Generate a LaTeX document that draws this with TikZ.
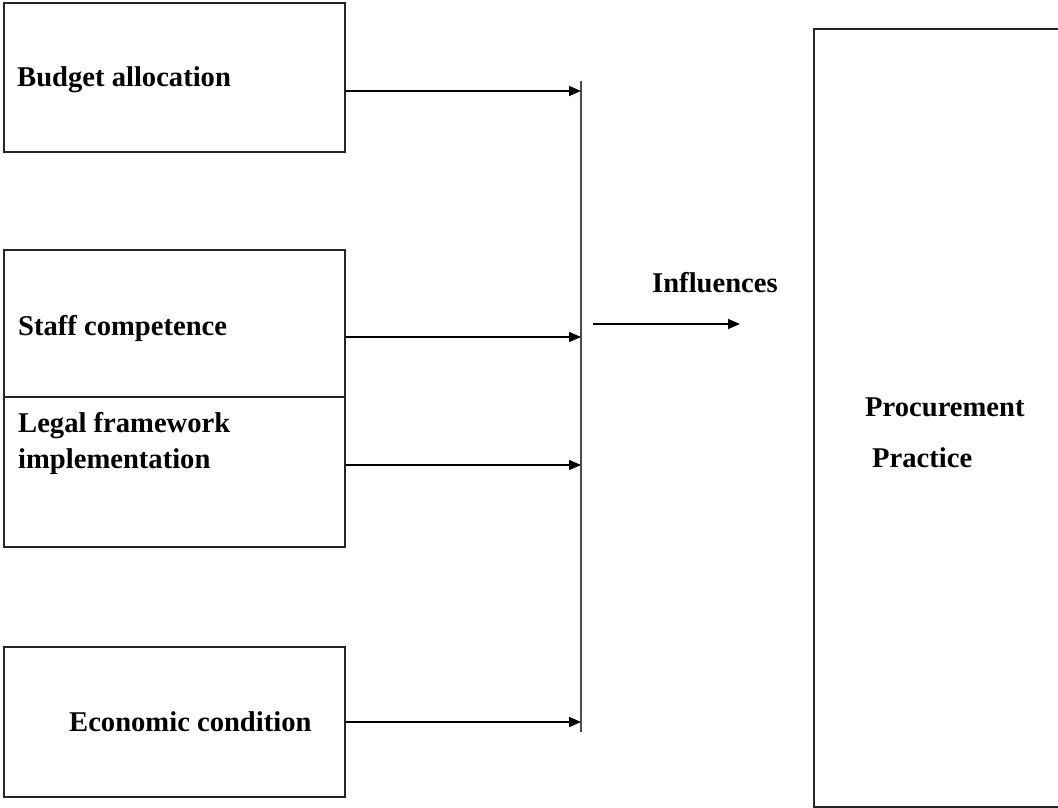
\documentclass[tikz,border=0pt]{standalone}
\usepackage{fontspec}
\setmainfont{Liberation Serif}
\usetikzlibrary{arrows.meta}
\begin{document}
\begin{tikzpicture}[x=1pt,y=-1pt,
  box/.style={draw=black!85,line width=1.9pt,rectangle,inner sep=0pt,anchor=north west},
  lbl/.style={anchor=base west,inner sep=0pt,font=\fontsize{28.6}{39}\selectfont\bfseries},
  arr/.style={line width=1.6pt,-{Triangle[length=12pt,width=10pt]}},
  bar/.style={draw=black!70,line width=2pt}]
\clip (0,0) rectangle (1058,808);
\fill[white] (0,0) rectangle (1058,808);
% boxes
\node[box,minimum width=341pt,minimum height=149pt] (b1) at (3,2) {};
\node[box,minimum width=341pt,minimum height=147pt] (b2) at (3,249) {};
\node[box,minimum width=341pt,minimum height=150pt] (b3) at (3,396) {};
\node[box,minimum width=341pt,minimum height=150pt] (b4) at (3,646) {};
\node[box,minimum width=300pt,minimum height=778pt] (pp) at (813,28) {};
% labels
\node[lbl] (t1) at (17,87) {Budget allocation};
\node[lbl] (t2) at (18,335) {Staff competence};
\node[lbl] (t3a) at (18,432) {Legal framework};
\node[lbl] (t3b) at (18,468) {implementation};
\node[lbl] (t4) at (69,731.5) {Economic condition};
\node[lbl] (tin) at (652,292) {Influences};
\node[lbl] (tp1) at (865,416) {Procurement};
\node[lbl] (tp2) at (872,467) {Practice};
% bar
\coordinate (bt) at (581,81);
\coordinate (bb) at (581,732);
\draw[bar] (bt) -- (bb);
\coordinate (a1) at (581,91);
\coordinate (a2) at (581,337);
\coordinate (a3) at (581,465);
\coordinate (a4) at (581,722);
\draw[arr] (b1.east |- a1) -- (a1);
\draw[arr] (b2.east |- a2) -- (a2);
\draw[arr] (b3.east |- a3) -- (a3);
\draw[arr] (b4.east |- a4) -- (a4);
% influences arrow
\coordinate (is) at (593,324);
\coordinate (ie) at (740,324);
\draw[arr] (is) -- (ie);
\end{tikzpicture}
\end{document}
